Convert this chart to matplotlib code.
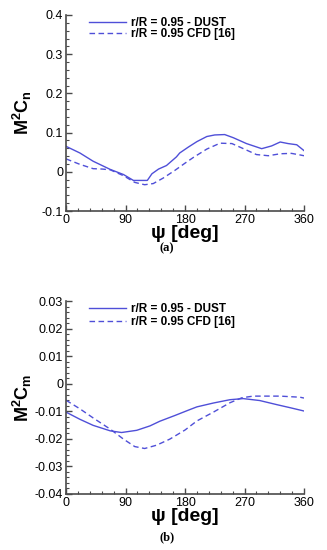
import matplotlib
matplotlib.use('Agg')
import matplotlib.pyplot as plt
from matplotlib.ticker import MultipleLocator, FuncFormatter

plt.rcParams['font.family'] = ['Liberation Sans', 'DejaVu Sans']
plt.rcParams['mathtext.fontset'] = 'custom'
plt.rcParams['mathtext.rm'] = 'Liberation Sans'
plt.rcParams['mathtext.bf'] = 'Liberation Sans:bold'

# (a) normal force coefficient
psi_cn_dust = [0, 21, 41, 67, 87, 102, 123, 130, 140, 152, 167, 172, 185, 198, 213,
               225, 240, 253, 273, 296, 311, 324, 336, 349, 360]
cn_dust = [0.065, 0.048, 0.027, 0.006, -0.007, -0.022, -0.022, -0.005, 0.007, 0.016,
           0.038, 0.048, 0.063, 0.077, 0.090, 0.094, 0.095, 0.087, 0.072, 0.059,
           0.066, 0.076, 0.072, 0.069, 0.054]
psi_cn_cfd = [0, 21, 41, 55, 67, 87, 104, 119, 132, 147, 165, 180, 193, 213, 233,
              251, 271, 288, 306, 324, 341, 354, 360]
cn_cfd = [0.033, 0.019, 0.008, 0.007, 0.005, -0.010, -0.027, -0.033, -0.030, -0.016,
          0.004, 0.022, 0.037, 0.058, 0.073, 0.072, 0.057, 0.044, 0.041, 0.046,
          0.047, 0.043, 0.041]

# (b) pitching moment coefficient
psi_cm_dust = [0, 21, 41, 67, 84, 107, 127, 142, 165, 185, 198, 223, 248, 268, 293,
               319, 339, 360]
cm_dust = [-0.0103, -0.0129, -0.0151, -0.0171, -0.0177, -0.0169, -0.0153, -0.0136,
           -0.0115, -0.0096, -0.0084, -0.0070, -0.0058, -0.0054, -0.0061, -0.0076,
           -0.0087, -0.0099]
psi_cm_cfd = [0, 21, 41, 67, 87, 104, 119, 137, 157, 180, 198, 223, 248, 266, 283,
              324, 354, 360]
cm_cfd = [-0.0060, -0.0091, -0.0124, -0.0165, -0.0201, -0.0228, -0.0235, -0.0223,
          -0.0201, -0.0168, -0.0135, -0.0103, -0.0069, -0.0051, -0.0045, -0.0045,
          -0.0049, -0.0052]

lab_dust = 'r/R = 0.95 - DUST'
lab_cfd = 'r/R = 0.95 CFD [16]'
blue = '#4f4fd8'
axcol = '#4a4a4a'

fig = plt.figure(figsize=(3.27, 5.5), dpi=100)
ax1 = fig.add_axes([66 / 327, 1 - 211 / 550, 238 / 327, 196 / 550])
ax2 = fig.add_axes([66 / 327, 1 - 494 / 550, 238 / 327, 193 / 550])


def yfmt(nd):
    def f(v, pos):
        if abs(v) < 1e-9:
            return '0'
        return ('%.' + str(nd) + 'f') % v
    return FuncFormatter(f)


def style(ax, ylim, ymaj, ymin, nd, ylabel, lspace):
    ax.set_xlim(0, 360)
    ax.set_ylim(*ylim)
    ax.xaxis.set_major_locator(MultipleLocator(90))
    ax.xaxis.set_minor_locator(MultipleLocator(18))
    ax.yaxis.set_major_locator(MultipleLocator(ymaj))
    ax.yaxis.set_minor_locator(MultipleLocator(ymin))
    ax.yaxis.set_major_formatter(yfmt(nd))
    for s in ['top', 'right']:
        ax.spines[s].set_visible(False)
    for s in ['left', 'bottom']:
        ax.spines[s].set_color(axcol)
        ax.spines[s].set_linewidth(1.2)
    ax.tick_params(which='both', direction='in', color=axcol, labelsize=9, pad=2)
    ax.tick_params(which='major', length=4, width=1)
    ax.tick_params(which='minor', length=2, width=0.8)
    ax.set_xlabel('ψ [deg]', fontsize=14, fontweight='bold')
    ax.xaxis.set_label_coords(0.5, -0.072)
    ax.set_ylabel(ylabel, fontsize=13)
    ax.yaxis.set_label_coords(-0.135, 0.5)
    ax.legend(loc='upper left', bbox_to_anchor=(0.095, 0.99), frameon=False,
              prop={'size': 8.5, 'weight': 'bold'}, handlelength=3.2,
              handletextpad=0.4, borderpad=0, borderaxespad=0, labelspacing=lspace)


ax1.plot(psi_cn_dust, cn_dust, color=blue, lw=1.0, label=lab_dust)
ax1.plot(psi_cn_cfd, cn_cfd, color=blue, lw=1.0, ls=(0, (4, 2.5)), label=lab_cfd)
style(ax1, (-0.1, 0.4), 0.1, 0.02, 1, r'$\mathbf{M^2C_n}$', -0.05)

ax2.plot(psi_cm_dust, cm_dust, color=blue, lw=1.0, label=lab_dust)
ax2.plot(psi_cm_cfd, cm_cfd, color=blue, lw=1.0, ls=(0, (4, 2.5)), label=lab_cfd)
style(ax2, (-0.04, 0.03), 0.01, 0.002, 2, r'$\mathbf{M^2C_m}$', 0.12)

fig.text(167 / 327, 1 - 248 / 550, '(a)', ha='center', va='center',
         family='Liberation Serif', fontweight='bold', fontsize=9)
fig.text(167 / 327, 1 - 537 / 550, '(b)', ha='center', va='center',
         family='Liberation Serif', fontweight='bold', fontsize=9)

fig.savefig('out.png', dpi=100)
